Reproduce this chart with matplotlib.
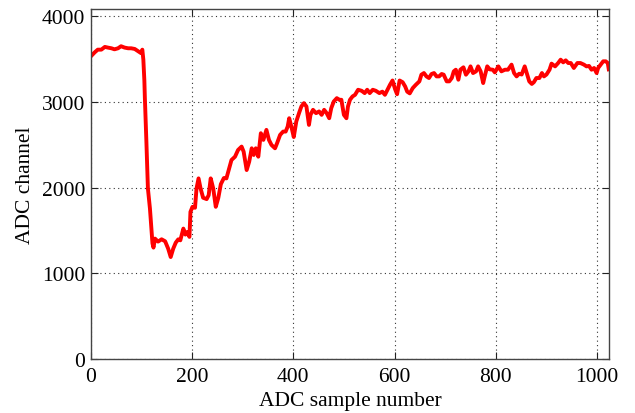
import matplotlib
matplotlib.use("Agg")
import matplotlib.pyplot as plt

sample = [0, 8, 14, 21, 28, 34, 41, 47, 54, 60, 67, 74, 80, 87, 93, 99, 102, 104, 106, 107,
          110, 113, 117, 120, 122, 124, 127, 133, 140, 147, 153, 158, 163, 168, 173, 177,
          183, 187, 191, 195, 197, 201, 206, 209, 213, 217, 222, 229, 233, 237, 242, 247,
          252, 257, 263, 268, 273, 278, 285, 291, 298, 302, 308, 313, 318, 322, 326, 331,
          336, 341, 347, 352, 357, 364, 368, 374, 380, 385, 389, 392, 397, 401, 406, 412,
          416, 421, 426, 431, 434, 439, 445, 451, 456, 461, 466, 471, 475, 480, 486, 491,
          495, 500, 505, 508, 512, 517, 522, 528, 535, 541, 546, 551, 557, 563, 570, 576,
          581, 586, 591, 596, 601, 605, 610, 616, 621, 625, 630, 636, 642, 649, 653, 658,
          663, 668, 673, 678, 683, 688, 693, 697, 703, 708, 713, 717, 721, 726, 730, 736,
          741, 746, 750, 755, 761, 765, 770, 775, 778, 783, 788, 794, 798, 805, 811, 818,
          824, 831, 836, 841, 846, 851, 857, 862, 866, 871, 875, 880, 886, 891, 895, 900,
          906, 910, 917, 923, 928, 933, 938, 943, 948, 954, 961, 967, 974, 979, 984, 989,
          994, 999, 1002, 1007, 1012, 1017, 1021, 1023]
adc = [3530, 3579, 3610, 3610, 3642, 3634, 3626, 3614, 3626, 3650, 3634, 3626, 3626, 3618, 3595, 3571, 3610, 3493, 3250, 3045,
       2537, 1990, 1757, 1522, 1350, 1300, 1405, 1370, 1397, 1374, 1288, 1190, 1288, 1358, 1397, 1385,
       1522, 1452, 1483, 1425, 1717, 1776, 1765, 1990, 2108, 1990, 1882, 1866, 1912, 2108, 1990, 1776,
       1880, 2040, 2112, 2108, 2215, 2322, 2361, 2439, 2479, 2420, 2205, 2303, 2459, 2381, 2459, 2361,
       2635, 2557, 2674, 2557, 2498, 2459, 2518, 2615, 2654, 2654, 2713, 2810, 2693, 2590, 2772, 2880,
       2947, 2986, 2947, 2732, 2849, 2908, 2869, 2889, 2849, 2908, 2869, 2810, 2927, 3005, 3044, 3025,
       3025, 2849, 2810, 2947, 3025, 3064, 3083, 3142, 3130, 3103, 3142, 3103, 3142, 3130, 3103, 3120,
       3083, 3142, 3200, 3250, 3150, 3090, 3250, 3230, 3180, 3120, 3100, 3162, 3200, 3240, 3318, 3337,
       3298, 3279, 3326, 3337, 3298, 3298, 3326, 3318, 3240, 3240, 3279, 3357, 3376, 3259, 3376, 3404,
       3318, 3357, 3415, 3337, 3357, 3415, 3357, 3220, 3298, 3415, 3380, 3376, 3345, 3415, 3357, 3376,
       3376, 3435, 3337, 3298, 3329, 3320, 3415, 3318, 3240, 3210, 3230, 3279, 3279, 3337, 3298, 3320,
       3376, 3447, 3415, 3454, 3493, 3462, 3485, 3454, 3454, 3396, 3454, 3454, 3435, 3415, 3420, 3376,
       3396, 3337, 3396, 3435, 3474, 3474, 3454, 3380]

xticks = [0, 200, 400, 600, 800, 1000]
yticks = [0, 1000, 2000, 3000, 4000]

plt.rcParams['font.family'] = ['Liberation Serif', 'DejaVu Serif']

fig = plt.figure(figsize=(6.35, 4.14), dpi=100)
ax = fig.add_axes([0.1428, 0.1304, 0.8167, 0.8466])

ax.plot(sample, adc, color='#ff0000', lw=2.8, solid_joinstyle='round')

ax.set_xlim(0, 1024)
ax.set_ylim(0, 4090)
ax.set_xticks(xticks)
ax.set_yticks(yticks)
ax.set_xticklabels([str(v) for v in xticks], fontsize=15.5)
ax.set_yticklabels([str(v) for v in yticks], fontsize=15.5)
ax.tick_params(axis='x', pad=6)
ax.tick_params(direction='in', length=5, width=0.8, top=True, right=True,
               colors='#222222', labelcolor='black')
ax.tick_params(axis='y', pad=4)
ax.grid(True, linestyle=(0, (1, 3)), color='#333333', linewidth=0.8)
for s in ax.spines.values():
    s.set_color('#444444')
    s.set_linewidth(1.0)

ax.set_xlabel('ADC sample number', fontsize=15.5, labelpad=3)
ax.set_ylabel('ADC channel', fontsize=15.5, labelpad=5)

fig.savefig('out.png', dpi=100)
